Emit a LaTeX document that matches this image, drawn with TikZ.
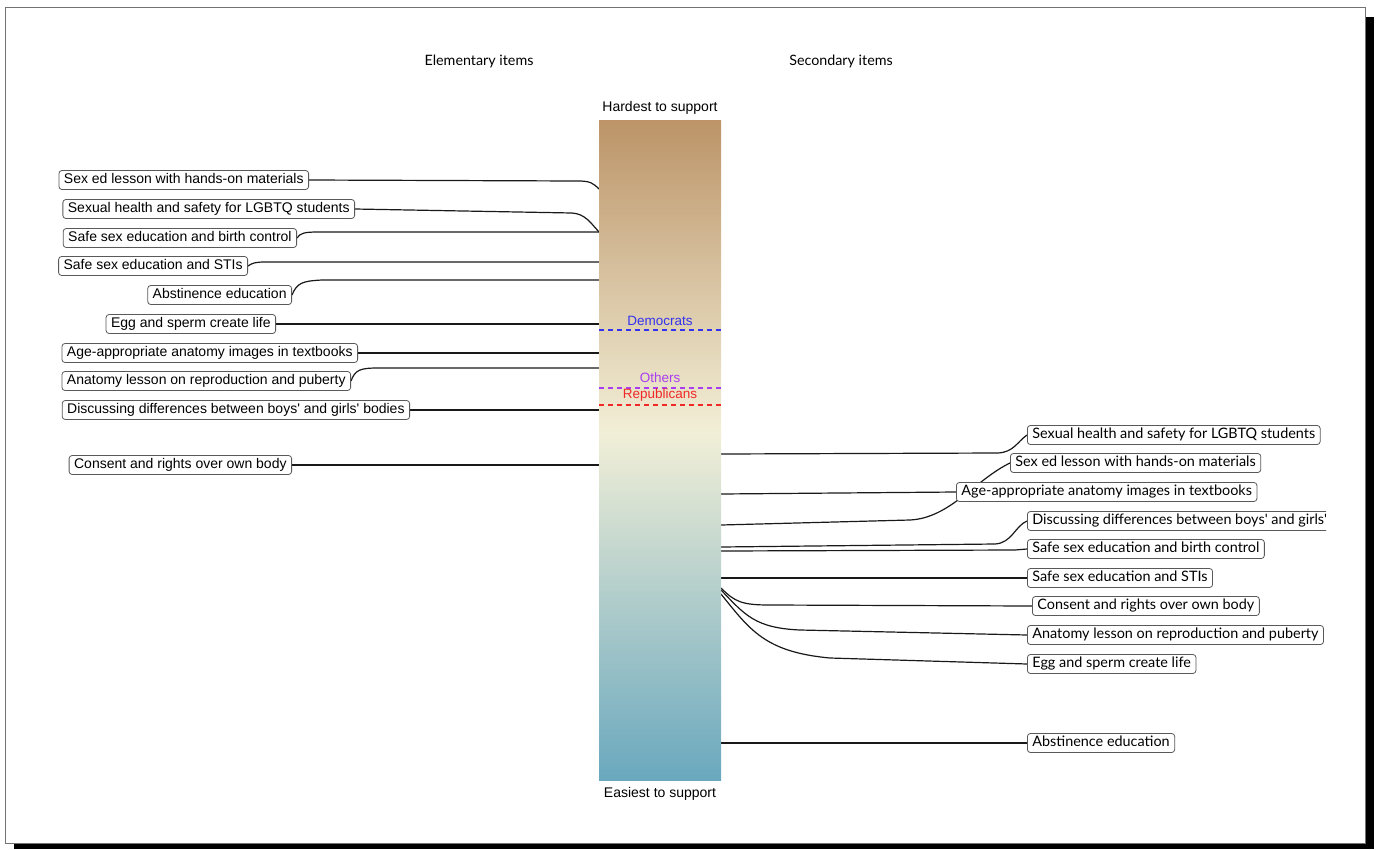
\documentclass[tikz,border=0pt]{standalone}
\usepackage{fontspec}
\setmainfont{Liberation Sans}[Ligatures=TeXOff]
\newfontfamily\humfont{Lato}[Ligatures=TeXOff]
\usetikzlibrary{positioning}
\pgfdeclarelayer{background}
\pgfsetlayers{background,main}
\definecolor{topbrown}{RGB}{188,148,104}
\definecolor{midcream}{RGB}{242,239,215}
\definecolor{lowblue}{RGB}{106,168,190}
\definecolor{dem}{RGB}{50,50,240}
\definecolor{oth}{RGB}{170,60,240}
\definecolor{rep}{RGB}{240,40,40}

\begin{document}
\begin{tikzpicture}[x=1pt, y=-1pt,
  elem/.style={draw=black!65, rounded corners=3pt, line width=0.8pt, fill=white,
    font=\fontsize{14}{16}\selectfont, inner xsep=5pt, inner ysep=3pt,
    text height=10pt, text depth=3pt},
  sec/.style={elem, font=\humfont\fontsize{14.4}{16}\selectfont},
  link/.style={line width=1.2pt, black!90},
  party/.style={dash pattern=on 5pt off 4pt, line width=1.2pt},
  head/.style={font=\humfont\fontsize{14.3}{16}\selectfont}]
\useasboundingbox (0,0) rectangle (1379,849);
\fill[black] (1365,17) rectangle (1374,849);
\fill[black] (14,843) rectangle (1374,849);
\draw[black!55, line width=1pt] (5,7) rectangle (1365,843);

\node[head] (elemhead) at (479,61) {Elementary items};
\node[head] (sechead) at (841,61) {Secondary items};

% the scale bar
\shade[top color=topbrown, bottom color=midcream] (599,120) rectangle (721,432);
\shade[top color=midcream, bottom color=lowblue] (599,431) rectangle (721,780);
\node[font=\fontsize{14}{16}\selectfont] (hard) at (660,108) {Hardest to support};
\node[font=\fontsize{14}{16}\selectfont] (easy) at (660,794) {Easiest to support};

\draw[party, dem] (599,330) -- (721,330);
\draw[party, oth] (599,388) -- (721,388);
\draw[party, rep] (599,405) -- (721,405);
\node[dem, font=\fontsize{13.5}{16}\selectfont] (demlab) at (660,321) {Democrats};
\node[oth, font=\fontsize{13.5}{16}\selectfont] (othlab) at (660,378) {Others};
\node[rep, font=\fontsize{13.5}{16}\selectfont] (replab) at (660,395) {Republicans};

% elementary items
\node[elem, anchor=east] (el1) at (309,180) {Sex ed lesson with hands-on materials};
\node[elem, anchor=east] (el2) at (355,209) {Sexual health and safety for LGBTQ students};
\node[elem, anchor=east] (el3) at (297,238) {Safe sex education and birth control};
\node[elem, anchor=east] (el4) at (248,266) {Safe sex education and STIs};
\node[elem, anchor=east] (el5) at (292,295) {Abstinence education};
\node[elem, anchor=east] (el6) at (276,324) {Egg and sperm create life};
\node[elem, anchor=east] (el7) at (358,353) {Age-appropriate anatomy images in textbooks};
\node[elem, anchor=east] (el8) at (351,381) {Anatomy lesson on reproduction and puberty};
\node[elem, anchor=east] (el9) at (410,410) {Discussing differences between boys' and girls' bodies};
\node[elem, anchor=east] (el10) at (292,465) {Consent and rights over own body};

% secondary items
\node[sec, anchor=west] (se1) at (1027,435) {Sexual health and safety for LGBTQ students};
\node[sec, anchor=west] (se2) at (1010,463) {Sex ed lesson with hands-on materials};
\node[sec, anchor=west] (se3) at (956,492) {Age-appropriate anatomy images in textbooks};
\begin{scope}
\clip (1000,500) rectangle (1326,540);
\node[sec, anchor=west] (se4) at (1027,521) {Discussing differences between boys' and girls' bodies};
\end{scope}
\node[sec, anchor=west] (se5) at (1027,549) {Safe sex education and birth control};
\node[sec, anchor=west] (se6) at (1027,578) {Safe sex education and STIs};
\node[sec, anchor=west] (se7) at (1032,606) {Consent and rights over own body};
\node[sec, anchor=west] (se8) at (1027,635) {Anatomy lesson on reproduction and puberty};
\node[sec, anchor=west] (se9) at (1027,664) {Egg and sperm create life};
\node[sec, anchor=west] (se10) at (1027,743) {Abstinence education};

\coordinate (bl1) at (599,189);
\coordinate (bl2) at (599,232);
\coordinate (bl4) at (599,262);
\coordinate (bl5) at (599,280);
\coordinate (bl8) at (599,368);
\coordinate (br1) at (721,454);
\coordinate (br2) at (721,525);
\coordinate (br3) at (721,494);
\coordinate (br4) at (721,547);
\coordinate (br5) at (721,551);
\coordinate (br6) at (721,578);
\coordinate (br7) at (721,588);
\coordinate (br8) at (721,590);
\coordinate (br9) at (721,594);
\coordinate (br10) at (721,743);

\begin{pgfonlayer}{background}
\draw[link] (el1.east) -- (578,181) .. controls (590,181) and (593,183) .. (bl1);
\draw[link] (el2.east) -- (572,213) .. controls (585,214) and (590,222) .. (bl2);
\draw[link] (el3.east) .. controls (300,233) and (305,232) .. (318,232) -- (bl2);
\draw[link] (el4.east) .. controls (252,263) and (256,262) .. (265,262) -- (bl4);
\draw[link] (el5.east) .. controls (297,283) and (302,281) .. (322,280) -- (bl5);
\draw[link] (el6.east) -- (el6.east -| bl1);
\draw[link] (el7.east) -- (el7.east -| bl1);
\draw[link] (el8.east) .. controls (355,370) and (360,368) .. (378,368) -- (bl8);
\draw[link] (el9.east) -- (el9.east -| bl1);
\draw[link] (el10.east) -- (el10.east -| bl1);

\draw[link] (br1) -- (998,453) .. controls (1014,452) and (1017,442) .. (se1.west);
\draw[link] (br2) -- (910,520) .. controls (950,518) and (975,480) .. (se2.west);
\draw[link] (br3) -- (se3.west);
\draw[link] (br4) -- (995,544) .. controls (1012,543) and (1015,526) .. (se4.west);
\draw[link] (br5) -- (1015,550) -- (se5.west);
\draw[link] (br6) -- (se6.west);
\draw[link] (br7) .. controls (735,602) and (742,605) .. (770,605) -- (se7.west);
\draw[link] (br8) .. controls (745,615) and (755,628) .. (800,630) -- (se8.west);
\draw[link] (br9) .. controls (750,630) and (765,652) .. (830,658) -- (se9.west);
\draw[link] (br10) -- (se10.west);
\end{pgfonlayer}
\end{tikzpicture}
\end{document}
